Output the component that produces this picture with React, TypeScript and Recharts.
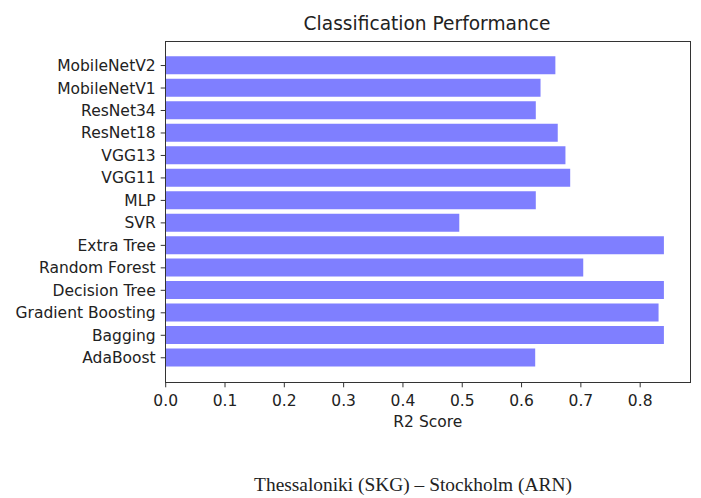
import { BarChart, Bar, XAxis, YAxis } from 'recharts';

// top-to-bottom order, as in the reference
const models = [
  'MobileNetV2',
  'MobileNetV1',
  'ResNet34',
  'ResNet18',
  'VGG13',
  'VGG11',
  'MLP',
  'SVR',
  'Extra Tree',
  'Random Forest',
  'Decision Tree',
  'Gradient Boosting',
  'Bagging',
  'AdaBoost'
];

const r2Scores = [
  0.657, 0.632, 0.624, 0.661, 0.674, 0.682, 0.624, 0.495, 0.84, 0.704, 0.84,
  0.831, 0.84, 0.623
];

const xTicks = [0, 0.1, 0.2, 0.3, 0.4, 0.5, 0.6, 0.7, 0.8];

const data = models.map((name, i) => ({ name, score: r2Scores[i] }));

const FONT = '"DejaVu Sans", Verdana, sans-serif';
const TEXT = '#222';

export default function App() {
  return (
    <div
      style={{
        position: 'absolute',
        left: 0,
        top: 0,
        width: 701,
        height: 498,
        background: '#fff',
        fontFamily: FONT
      }}
    >
      <div
        style={{
          position: 'absolute',
          left: 227,
          top: 15,
          width: 400,
          textAlign: 'center',
          fontSize: 18.6,
          lineHeight: 1,
          color: TEXT
        }}
      >
        Classification Performance
      </div>

      <BarChart
        width={701}
        height={498}
        data={data}
        layout="vertical"
        margin={{ top: 41, right: 11, left: 0, bottom: 70.7 }}
      >
        <XAxis
          type="number"
          domain={[0, 0.884]}
          ticks={xTicks}
          allowDataOverflow
          tickFormatter={(v: number) => v.toFixed(1)}
          axisLine={false}
          tickLine={{ stroke: '#333' }}
          tickSize={5}
          tickMargin={8}
          height={45}
          tick={{ fontSize: 15.5, fill: TEXT, fontFamily: FONT }}
          label={{
            value: 'R2 Score',
            position: 'insideBottom',
            offset: 0,
            style: { fontSize: 15.5, fill: TEXT, fontFamily: FONT }
          }}
        />
        <YAxis
          type="category"
          dataKey="name"
          width={165.7}
          interval={0}
          padding={{ top: 13.3, bottom: 13.3 }}
          axisLine={false}
          tickLine={{ stroke: '#333' }}
          tickSize={5}
          tickMargin={5}
          tick={{ fontSize: 15.5, fill: TEXT, fontFamily: FONT }}
        />
        <Bar
          dataKey="score"
          fill="#7f7fff"
          barSize={18}
          isAnimationActive={false}
        />
      </BarChart>

      {/* axes frame */}
      <div
        style={{
          position: 'absolute',
          left: 165.2,
          top: 40.5,
          width: 523.8,
          height: 340.8,
          border: '1px solid #333',
          pointerEvents: 'none'
        }}
      />

      <div
        style={{
          position: 'absolute',
          left: 213,
          top: 475,
          width: 400,
          textAlign: 'center',
          fontFamily: '"Liberation Serif", "Times New Roman", serif',
          fontSize: 19.4,
          lineHeight: 1,
          color: TEXT
        }}
      >
        Thessaloniki (SKG) – Stockholm (ARN)
      </div>
    </div>
  );
}
